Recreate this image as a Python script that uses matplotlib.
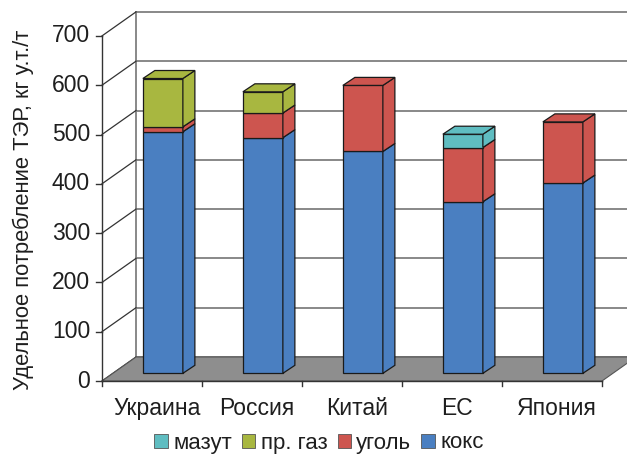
import matplotlib
matplotlib.use("Agg")
import matplotlib.pyplot as plt
from matplotlib.patches import Polygon, Rectangle

categories = ["Украина", "Россия", "Китай", "ЕС", "Япония"]
series_names = ["кокс", "уголь", "пр. газ", "мазут"]
koks = [490, 478, 450, 348, 386]
ugol = [10, 50, 134, 110, 124]
gaz = [98, 43, 0, 0, 0]
mazut = [0, 0, 0, 27, 0]
series_values = [koks, ugol, gaz, mazut]
colors = ["#4a7fc1", "#cd554f", "#a8b740", "#5fbdc1"]
y_ticks = [0, 100, 200, 300, 400, 500, 600, 700]
ylabel = "Удельное потребление ТЭР, кг у.т./т"
legend_order = ["мазут", "пр. газ", "уголь", "кокс"]

plt.rcParams['font.family'] = ['Liberation Sans', 'DejaVu Sans']

W, H = 627, 455
fig = plt.figure(figsize=(W / 100, H / 100), dpi=100)
ax = fig.add_axes([0, 0, 1, 1])
ax.axis('off')

pxu = 0.493  # pixels per value unit
ax.set_xlim(-0.5 - 102 / 100, -0.5 + (W - 102) / 100)
ax.set_ylim(-(H - 381) / pxu, 381 / pxu)

DX, DY = 0.34, 24 / pxu          # full depth offset
f0 = 0.32                          # bar front plane
bx, by = DX * f0, DY * f0
bdx, bdy = 0.12, 8 / pxu           # bar depth
bw = 0.4
n = len(categories)
grid_c = "#7f7f7f"
txt_c = "#1e1e1e"

floor = Polygon([(-0.5, 0), (n - 0.5, 0), (n - 0.5 + DX, DY), (-0.5 + DX, DY)],
                closed=True, facecolor="#8e8e8e", edgecolor="#555555", lw=0.8, zorder=1)
ax.add_patch(floor)

for v in y_ticks:
    ax.plot([-0.5 + DX, 5.0], [v + DY, v + DY], color=grid_c, lw=1.3, zorder=0.5)
    ax.plot([-0.5, -0.5 + DX], [v, v + DY], color="#333333", lw=0.9, zorder=0.6)
ax.plot([-0.5 + DX, -0.5 + DX], [DY, y_ticks[-1] + DY], color=grid_c, lw=1.3, zorder=0.5)

ax.plot([-0.5, -0.5], [0, y_ticks[-1]], color="#333333", lw=1.0, zorder=2)
for v in y_ticks:
    ax.plot([-0.56, -0.5], [v, v], color="#333333", lw=1.0, zorder=2)
    ax.text(-0.62, v, str(v), ha='right', va='center', fontsize=16.5, color=txt_c)

ax.plot([-0.5, n - 0.5], [0, 0], color="#333333", lw=1.0, zorder=2)
for k in range(n + 1):
    ax.plot([-0.5 + k, -0.5 + k], [0, -10], color="#333333", lw=1.0, zorder=2)
for i, c in enumerate(categories):
    ax.text(i + 0.05, -55, c, ha='center', va='center', fontsize=16.5, color=txt_c)

for i in range(n):
    bottom = 0
    segs = [(series_values[s][i], colors[s]) for s in range(len(series_values)) if series_values[s][i] > 0]
    for j, (v, col) in enumerate(segs):
        x0 = i + bx - bw / 2
        x1 = i + bx + bw / 2
        y0 = by + bottom
        y1 = by + bottom + v
        ax.bar(i + bx, v, width=bw, bottom=y0, color=col, edgecolor="#1a1a1a", lw=0.9, zorder=3)
        side = Polygon([(x1, y0), (x1 + bdx, y0 + bdy), (x1 + bdx, y1 + bdy), (x1, y1)],
                       closed=True, facecolor=col, edgecolor="#1a1a1a", lw=0.9, zorder=3)
        ax.add_patch(side)
        if j == len(segs) - 1:
            top = Polygon([(x0, y1), (x1, y1), (x1 + bdx, y1 + bdy), (x0 + bdx, y1 + bdy)],
                          closed=True, facecolor=col, edgecolor="#1a1a1a", lw=0.9, zorder=3)
            ax.add_patch(top)
        bottom += v

fig.text(23 / W, 1 - 210 / H, ylabel, rotation=90, ha='center', va='center',
         fontsize=15.8, color=txt_c)

handles = [Rectangle((0, 0), 1, 1, facecolor=colors[series_names.index(nm)],
                     edgecolor="#555555", lw=0.6) for nm in legend_order]
leg = fig.legend(handles, legend_order, loc='center', bbox_to_anchor=(319 / W, 1 - 443 / H),
                 ncol=4, frameon=False, fontsize=16, handlelength=0.6, handleheight=0.6,
                 handletextpad=0.25, columnspacing=0.45, borderpad=0)
for t in leg.get_texts():
    t.set_color(txt_c)

fig.savefig("out.png", dpi=100)
